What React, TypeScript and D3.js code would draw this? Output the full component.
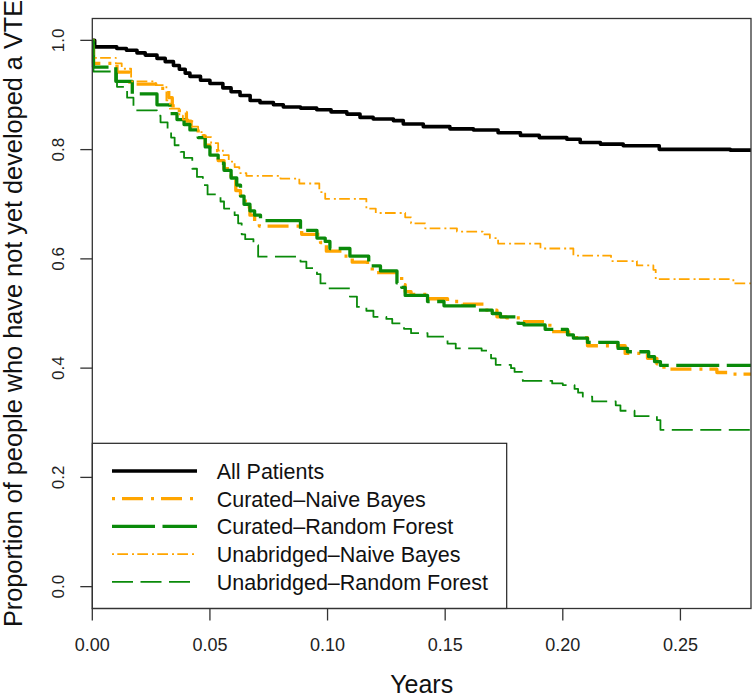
import React from "react";
import * as d3 from "d3";

const X_TICKS = [0, 0.05, 0.1, 0.15, 0.2, 0.25];
const X_TICK_LABELS = ["0.00", "0.05", "0.10", "0.15", "0.20", "0.25"];
const Y_TICKS = [0, 0.2, 0.4, 0.6, 0.8, 1.0];
const Y_TICK_LABELS = ["0.0", "0.2", "0.4", "0.6", "0.8", "1.0"];
const X_MAX = 0.28;

const SERIES_NAMES = [
  "All Patients",
  "Curated\u2013Naive Bayes",
  "Curated\u2013Random Forest",
  "Unabridged\u2013Naive Bayes",
  "Unabridged\u2013Random Forest",
];

// [time (years), survival proportion]
const allPatients: [number, number][] = [
  [0, 1.0], [0.001, 0.988], [0.0104, 0.985], [0.0145, 0.982], [0.019, 0.977], [0.0225, 0.973],
  [0.0275, 0.967], [0.031, 0.961], [0.0345, 0.954], [0.037, 0.947], [0.0395, 0.94], [0.0415, 0.934],
  [0.046, 0.927], [0.05, 0.921], [0.0555, 0.913], [0.059, 0.906], [0.0628, 0.899], [0.0671, 0.89],
  [0.0713, 0.886], [0.077, 0.882], [0.0812, 0.878], [0.0885, 0.876], [0.0954, 0.873], [0.1015, 0.869],
  [0.1082, 0.865], [0.1138, 0.859], [0.1194, 0.856], [0.128, 0.853], [0.1322, 0.847], [0.1407, 0.842],
  [0.152, 0.838], [0.162, 0.836], [0.1725, 0.831], [0.182, 0.826], [0.19, 0.822], [0.2017, 0.819],
  [0.2074, 0.813], [0.216, 0.81], [0.2257, 0.807], [0.241, 0.8005], [0.2712, 0.799], [0.28, 0.799],
];

const curatedNB: [number, number][] = [
  [0, 1.0], [0.0005, 0.958], [0.0105, 0.942], [0.016, 0.92], [0.027, 0.912], [0.0325, 0.895],
  [0.034, 0.88], [0.037, 0.868], [0.04, 0.852], [0.042, 0.84], [0.045, 0.825], [0.048, 0.808],
  [0.05, 0.798], [0.0535, 0.78], [0.056, 0.765], [0.059, 0.745], [0.061, 0.725], [0.063, 0.712],
  [0.065, 0.695], [0.067, 0.68], [0.069, 0.668], [0.071, 0.66], [0.089, 0.645], [0.097, 0.63],
  [0.0995, 0.614], [0.107, 0.605], [0.1105, 0.594], [0.117, 0.585], [0.119, 0.575], [0.1315, 0.553],
  [0.133, 0.54], [0.1355, 0.535], [0.142, 0.527], [0.151, 0.522], [0.1575, 0.517], [0.1665, 0.506],
  [0.172, 0.494], [0.176, 0.492], [0.183, 0.485], [0.1945, 0.467], [0.2025, 0.456], [0.2105, 0.441],
  [0.2265, 0.427], [0.236, 0.418], [0.24, 0.408], [0.243, 0.398], [0.2655, 0.392], [0.27, 0.389],
  [0.28, 0.389],
];

const curatedRF: [number, number][] = [
  [0, 1.0], [0.0005, 0.951], [0.01, 0.925], [0.017, 0.902], [0.0275, 0.882], [0.033, 0.866],
  [0.036, 0.855], [0.039, 0.846], [0.0415, 0.836], [0.045, 0.822], [0.048, 0.805], [0.05, 0.79],
  [0.0535, 0.775], [0.056, 0.762], [0.059, 0.748], [0.0614, 0.735], [0.063, 0.715], [0.0645, 0.7],
  [0.067, 0.688], [0.069, 0.68], [0.0715, 0.67], [0.0885, 0.652], [0.0955, 0.638], [0.099, 0.632],
  [0.101, 0.619], [0.1095, 0.605], [0.1175, 0.587], [0.1225, 0.578], [0.1295, 0.556], [0.1315, 0.548],
  [0.133, 0.533], [0.1425, 0.522], [0.1495, 0.514], [0.1635, 0.506], [0.17, 0.5], [0.1735, 0.494],
  [0.181, 0.482], [0.1835, 0.479], [0.1925, 0.471], [0.202, 0.461], [0.2045, 0.455], [0.2105, 0.447],
  [0.2235, 0.436], [0.2275, 0.43], [0.2365, 0.421], [0.239, 0.412], [0.2415, 0.405], [0.28, 0.405],
];

const unabridgedNB: [number, number][] = [
  [0, 1.0], [0.0005, 0.968], [0.01, 0.958], [0.0125, 0.948], [0.0165, 0.925], [0.027, 0.918],
  [0.0315, 0.89], [0.033, 0.875], [0.037, 0.862], [0.0385, 0.855], [0.0425, 0.842], [0.045, 0.832],
  [0.0475, 0.823], [0.0505, 0.812], [0.0535, 0.8], [0.0555, 0.79], [0.058, 0.778], [0.0605, 0.768],
  [0.0625, 0.757], [0.0655, 0.752], [0.08, 0.747], [0.088, 0.738], [0.0965, 0.722], [0.099, 0.71],
  [0.1165, 0.692], [0.1205, 0.684], [0.133, 0.676], [0.1355, 0.665], [0.1415, 0.656], [0.155, 0.65],
  [0.166, 0.645], [0.169, 0.638], [0.1725, 0.628], [0.1905, 0.619], [0.2045, 0.606], [0.2205, 0.596],
  [0.2315, 0.588], [0.2385, 0.58], [0.2395, 0.563], [0.2725, 0.555], [0.28, 0.555],
];

const unabridgedRF: [number, number][] = [
  [0, 1.0], [0.0005, 0.943], [0.0105, 0.915], [0.0148, 0.895], [0.0175, 0.872], [0.0275, 0.862],
  [0.029, 0.85], [0.032, 0.835], [0.0335, 0.822], [0.035, 0.808], [0.0375, 0.796], [0.039, 0.785],
  [0.0425, 0.765], [0.0445, 0.75], [0.047, 0.735], [0.049, 0.718], [0.0545, 0.705], [0.056, 0.692],
  [0.0605, 0.68], [0.062, 0.665], [0.0635, 0.645], [0.065, 0.636], [0.0685, 0.625], [0.0705, 0.604],
  [0.0885, 0.595], [0.091, 0.583], [0.0955, 0.572], [0.097, 0.555], [0.1005, 0.546], [0.1095, 0.531],
  [0.1125, 0.512], [0.1165, 0.505], [0.1195, 0.494], [0.125, 0.49], [0.1275, 0.482], [0.1325, 0.472],
  [0.1355, 0.464], [0.1425, 0.4575], [0.151, 0.445], [0.1545, 0.436], [0.1655, 0.432], [0.1685, 0.427],
  [0.1695, 0.418], [0.1715, 0.406], [0.178, 0.4], [0.1795, 0.393], [0.183, 0.3765], [0.1955, 0.372],
  [0.2, 0.369], [0.205, 0.362], [0.2065, 0.355], [0.2085, 0.348], [0.2125, 0.339], [0.2225, 0.332],
  [0.2245, 0.322], [0.2305, 0.312], [0.24, 0.305], [0.2415, 0.287], [0.28, 0.287],
];

const SERIES_DATA = [allPatients, curatedNB, curatedRF, unabridgedNB, unabridgedRF];

const STYLES = [
  { color: "#000000", width: 3.6, dash: "" },
  { color: "#FFA500", width: 3.3, dash: "3 7 21 8" },
  { color: "#0A8A0A", width: 3.3, dash: "43 7.5" },
  { color: "#FFA500", width: 1.8, dash: "2 3.3 10.7 4" },
  { color: "#0A8A0A", width: 1.8, dash: "21 7.5" },
];

const W = 753;
const H = 697;
const PL = 92.3;
const PR = 751;
const PT = 18.5;
const PB = 608.5;
const FONT = "'Liberation Sans', Arial, Helvetica, sans-serif";

export default function App() {
  const x = d3.scaleLinear().domain([0, X_MAX]).range([PL, PR]);
  const y = d3.scaleLinear().domain([-0.04, 1.04]).range([PB, PT]);
  const line = d3
    .line<[number, number]>()
    .x((d) => x(d[0]))
    .y((d) => y(d[1]))
    .curve(d3.curveStepAfter);

  const legX0 = PL;
  const legY0 = 443.3;
  const legX1 = 506.7;
  const rowY = (i: number) => 471 + i * 27.7;

  return (
    <svg
      width={W}
      height={H}
      style={{ position: "absolute", left: 0, top: 0, background: "#fff" }}
      fontFamily={FONT}
    >
      <rect x={0} y={0} width={W} height={H} fill="#fff" />
      {SERIES_DATA.map((data, i) => (
        <path
          key={i}
          d={line(data) || ""}
          fill="none"
          stroke={STYLES[i].color}
          strokeWidth={STYLES[i].width}
          strokeDasharray={STYLES[i].dash || undefined}
          strokeLinejoin="round"
        />
      ))}
      {/* legend */}
      <rect x={legX0} y={legY0} width={legX1 - legX0} height={PB - legY0} fill="#fff" stroke="#222" strokeWidth={1.2} />
      {SERIES_NAMES.map((name, i) => (
        <g key={name}>
          <line
            x1={112}
            x2={197}
            y1={rowY(i)}
            y2={rowY(i)}
            stroke={STYLES[i].color}
            strokeWidth={STYLES[i].width}
            strokeDasharray={STYLES[i].dash || undefined}
          />
          <text x={216.7} y={rowY(i) + 8} fontSize={21.5} fill="#111">
            {name}
          </text>
        </g>
      ))}
      {/* box */}
      <rect x={PL} y={PT} width={PR - PL} height={PB - PT} fill="none" stroke="#333" strokeWidth={1.3} />
      {/* x axis */}
      {X_TICKS.map((t, i) => (
        <g key={"x" + i}>
          <line x1={x(t)} x2={x(t)} y1={PB} y2={PB + 12} stroke="#333" strokeWidth={1.3} />
          <text x={x(t)} y={650.5} fontSize={18} textAnchor="middle" fill="#222">
            {X_TICK_LABELS[i]}
          </text>
        </g>
      ))}
      {/* y axis */}
      {Y_TICKS.map((t, i) => (
        <g key={"y" + i}>
          <line x1={PL - 12} x2={PL} y1={y(t)} y2={y(t)} stroke="#333" strokeWidth={1.3} />
          <text
            transform={`translate(64,${y(t)}) rotate(-90)`}
            fontSize={17}
            textAnchor="middle"
            fill="#222"
          >
            {Y_TICK_LABELS[i]}
          </text>
        </g>
      ))}
      <text x={(PL + PR) / 2} y={693} fontSize={25} textAnchor="middle" fill="#111">
        Years
      </text>
      <text
        transform={`translate(22,${(PT + PB) / 2}) rotate(-90)`}
        fontSize={25.3}
        textAnchor="middle"
        fill="#111"
      >
        Proportion of people who have not yet developed a VTE
      </text>
    </svg>
  );
}
